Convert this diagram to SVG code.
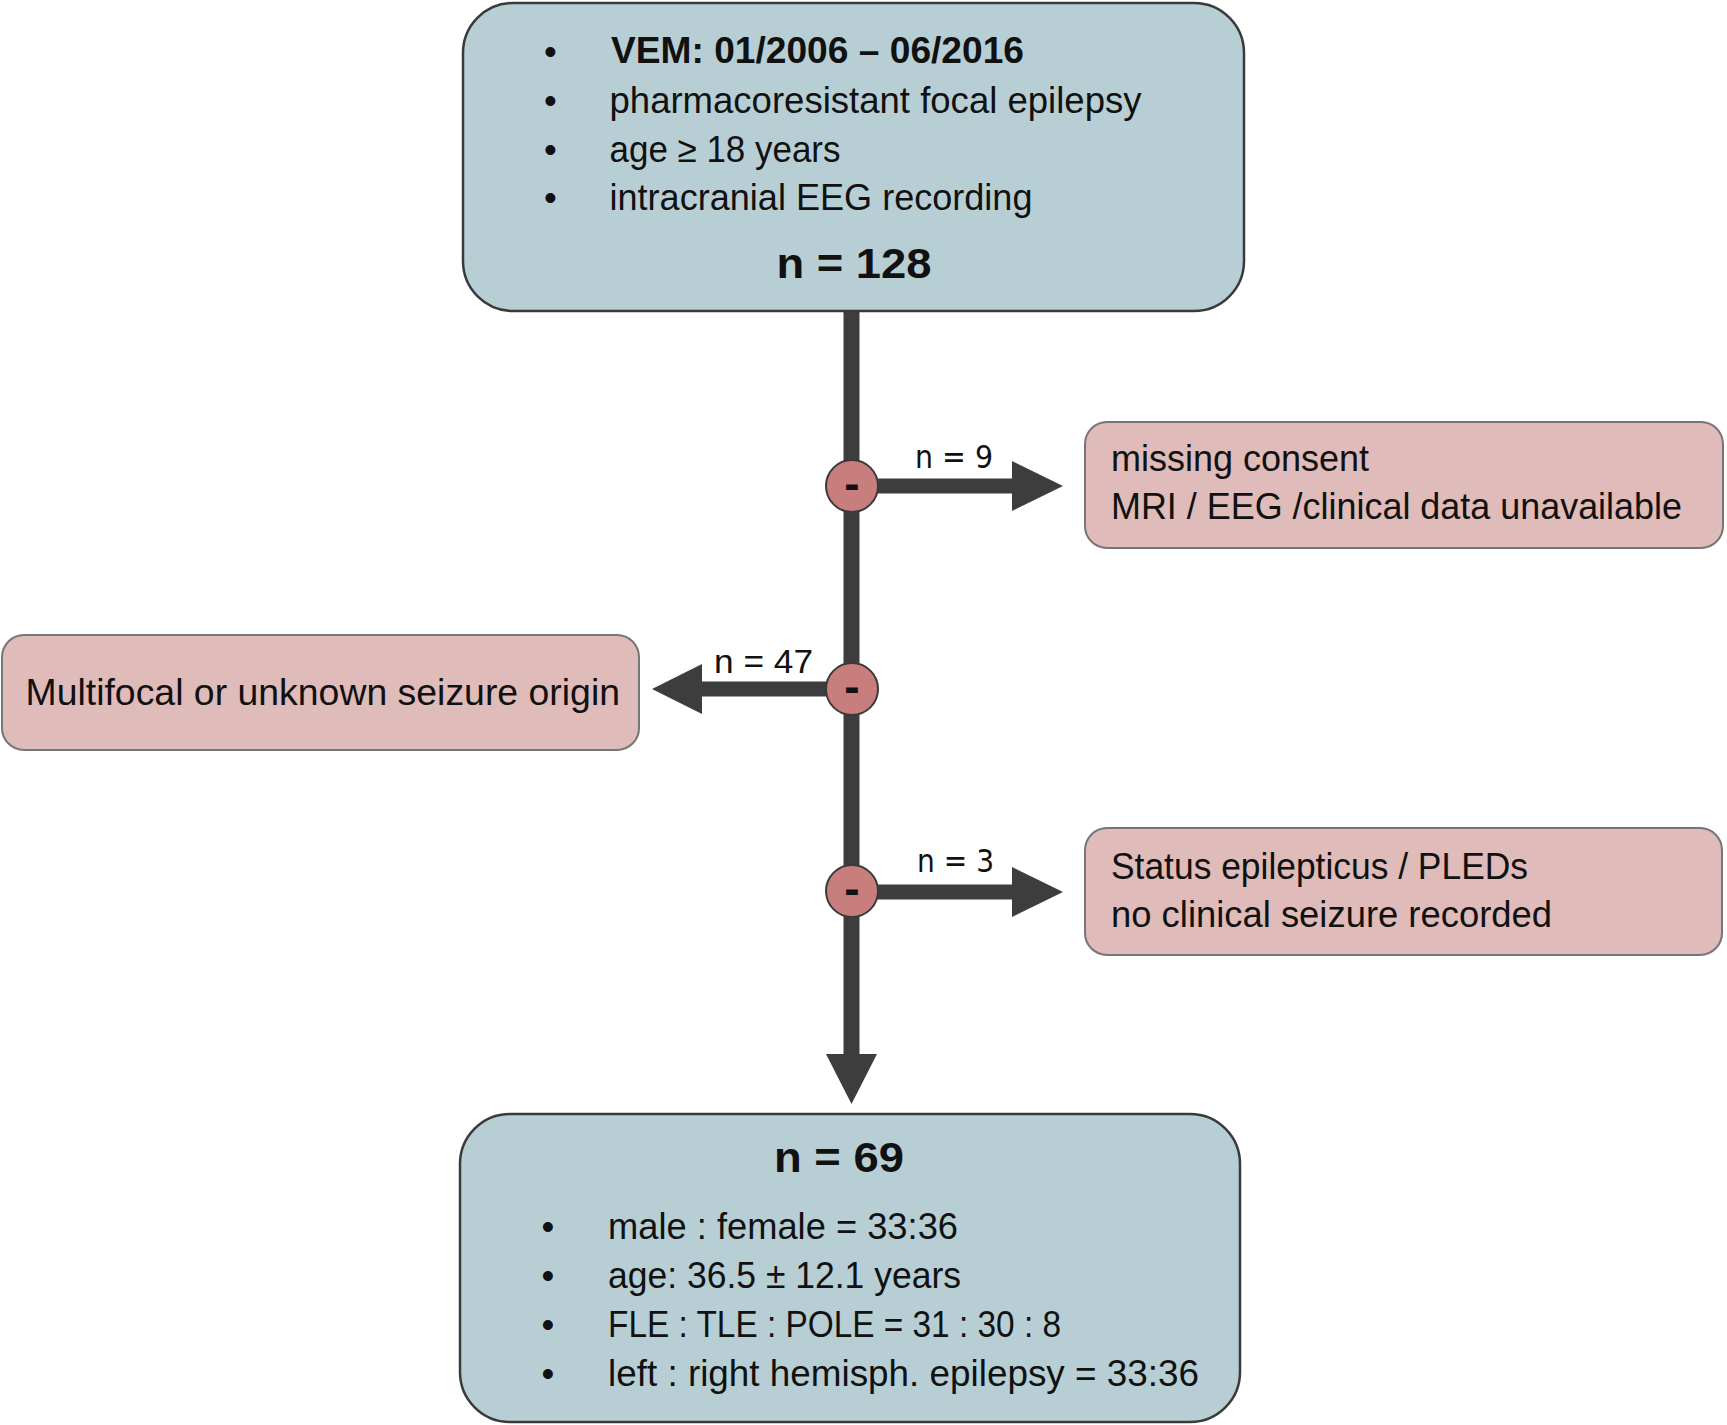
<svg xmlns="http://www.w3.org/2000/svg" width="1727" height="1425" viewBox="0 0 1727 1425">
<style>
.t{font-family:"Liberation Sans",Arial,sans-serif;font-size:36.5px;fill:#111;}
.b{font-weight:bold;}
.big{font-size:43px;font-weight:bold;text-anchor:middle;}
.blue{fill:#b7cfd4;stroke:#3a3a3a;stroke-width:2.5;}
.pink{fill:#dfbbb9;stroke:#767676;stroke-width:2;}
.lbl{font-family:"DejaVu Sans",Verdana,sans-serif;font-size:32.5px;fill:#111;}
.conn{stroke:#3d3d3d;stroke-width:16;fill:none;}
.head{fill:#3d3d3d;}
.dot{fill:#c97e7e;stroke:#3a3a3a;stroke-width:2;}
.minus{font-family:"Liberation Sans",Arial,sans-serif;font-size:46px;font-weight:bold;text-anchor:middle;fill:#111;}
.bul{font-family:"Liberation Sans",Arial,sans-serif;font-size:36.5px;text-anchor:middle;fill:#111;}
</style>
<rect width="1727" height="1425" fill="#ffffff"/>
<g id="connectors">
<line class="conn" x1="851.5" y1="311" x2="851.5" y2="1056"/>
<polygon class="head" points="826,1054 877,1054 851.5,1104"/>
<line class="conn" x1="852" y1="486" x2="1014" y2="486" style="stroke-width:15"/>
<polygon class="head" points="1012,461 1063,486 1012,511"/>
<line class="conn" x1="852" y1="689" x2="700" y2="689" style="stroke-width:15"/>
<polygon class="head" points="702,664 652,689 702,714"/>
<line class="conn" x1="852" y1="892" x2="1014" y2="892" style="stroke-width:15"/>
<polygon class="head" points="1012,867 1063,892 1012,917"/>
<text class="lbl" x="915" y="468" textLength="78" lengthAdjust="spacingAndGlyphs">n = 9</text>
<text class="t" x="714" y="673" style="font-size:34px" textLength="99" lengthAdjust="spacingAndGlyphs">n = 47</text>
<text class="lbl" x="917" y="872" textLength="77" lengthAdjust="spacingAndGlyphs">n = 3</text>
</g>
<g id="exclude1-marker">
<circle class="dot" cx="852" cy="486" r="26"/>
<text class="minus" x="852" y="498.5">-</text>
</g>
<g id="exclude2-marker">
<circle class="dot" cx="852" cy="689" r="26"/>
<text class="minus" x="852" y="701.5">-</text>
</g>
<g id="exclude3-marker">
<circle class="dot" cx="852" cy="891" r="26"/>
<text class="minus" x="852" y="903.5">-</text>
</g>
<g id="start">
<rect class="blue" x="463" y="3" width="781" height="308" rx="50" ry="50"/>
<text class="bul" x="550.5" y="64">•</text>
<text class="bul" x="550.5" y="113">•</text>
<text class="bul" x="550.5" y="162">•</text>
<text class="bul" x="550.5" y="210">•</text>
<text class="t b" x="611" y="63" textLength="413" lengthAdjust="spacingAndGlyphs">VEM: 01/2006 – 06/2016</text>
<text class="t" x="609.5" y="113" textLength="532" lengthAdjust="spacingAndGlyphs">pharmacoresistant focal epilepsy</text>
<text class="t" x="609.5" y="162" textLength="231" lengthAdjust="spacingAndGlyphs">age ≥ 18 years</text>
<text class="t" x="609.5" y="210" textLength="423" lengthAdjust="spacingAndGlyphs">intracranial EEG recording</text>
<text class="t big" x="854" y="278" textLength="155" lengthAdjust="spacingAndGlyphs">n = 128</text>
</g>
<g id="excl-consent">
<rect class="pink" x="1085" y="422" width="638" height="126" rx="22" ry="22"/>
<text class="t" x="1111" y="471" textLength="258" lengthAdjust="spacingAndGlyphs">missing consent</text>
<text class="t" x="1111" y="519" textLength="571" lengthAdjust="spacingAndGlyphs">MRI / EEG /clinical data unavailable</text>
</g>
<g id="excl-multifocal">
<rect class="pink" x="2" y="635" width="637" height="115" rx="22" ry="22"/>
<text class="t" x="25.5" y="705" textLength="594.5" lengthAdjust="spacingAndGlyphs">Multifocal or unknown seizure origin</text>
</g>
<g id="excl-status">
<rect class="pink" x="1085" y="828" width="637" height="127" rx="22" ry="22"/>
<text class="t" x="1111" y="879" textLength="417" lengthAdjust="spacingAndGlyphs">Status epilepticus / PLEDs</text>
<text class="t" x="1111" y="927" textLength="441" lengthAdjust="spacingAndGlyphs">no clinical seizure recorded</text>
</g>
<g id="final">
<rect class="blue" x="460" y="1114" width="780" height="308" rx="50" ry="50"/>
<text class="t big" x="839" y="1172" textLength="130" lengthAdjust="spacingAndGlyphs">n = 69</text>
<text class="bul" x="548" y="1239">•</text>
<text class="bul" x="548" y="1288">•</text>
<text class="bul" x="548" y="1337">•</text>
<text class="bul" x="548" y="1386">•</text>
<text class="t" x="608" y="1239" textLength="350" lengthAdjust="spacingAndGlyphs">male : female = 33:36</text>
<text class="t" x="608" y="1288" textLength="353" lengthAdjust="spacingAndGlyphs">age: 36.5 ± 12.1 years</text>
<text class="t" x="608" y="1337" textLength="453" lengthAdjust="spacingAndGlyphs">FLE : TLE : POLE = 31 : 30 : 8</text>
<text class="t" x="608" y="1386" textLength="591" lengthAdjust="spacingAndGlyphs">left : right hemisph. epilepsy = 33:36</text>
</g>
</svg>
